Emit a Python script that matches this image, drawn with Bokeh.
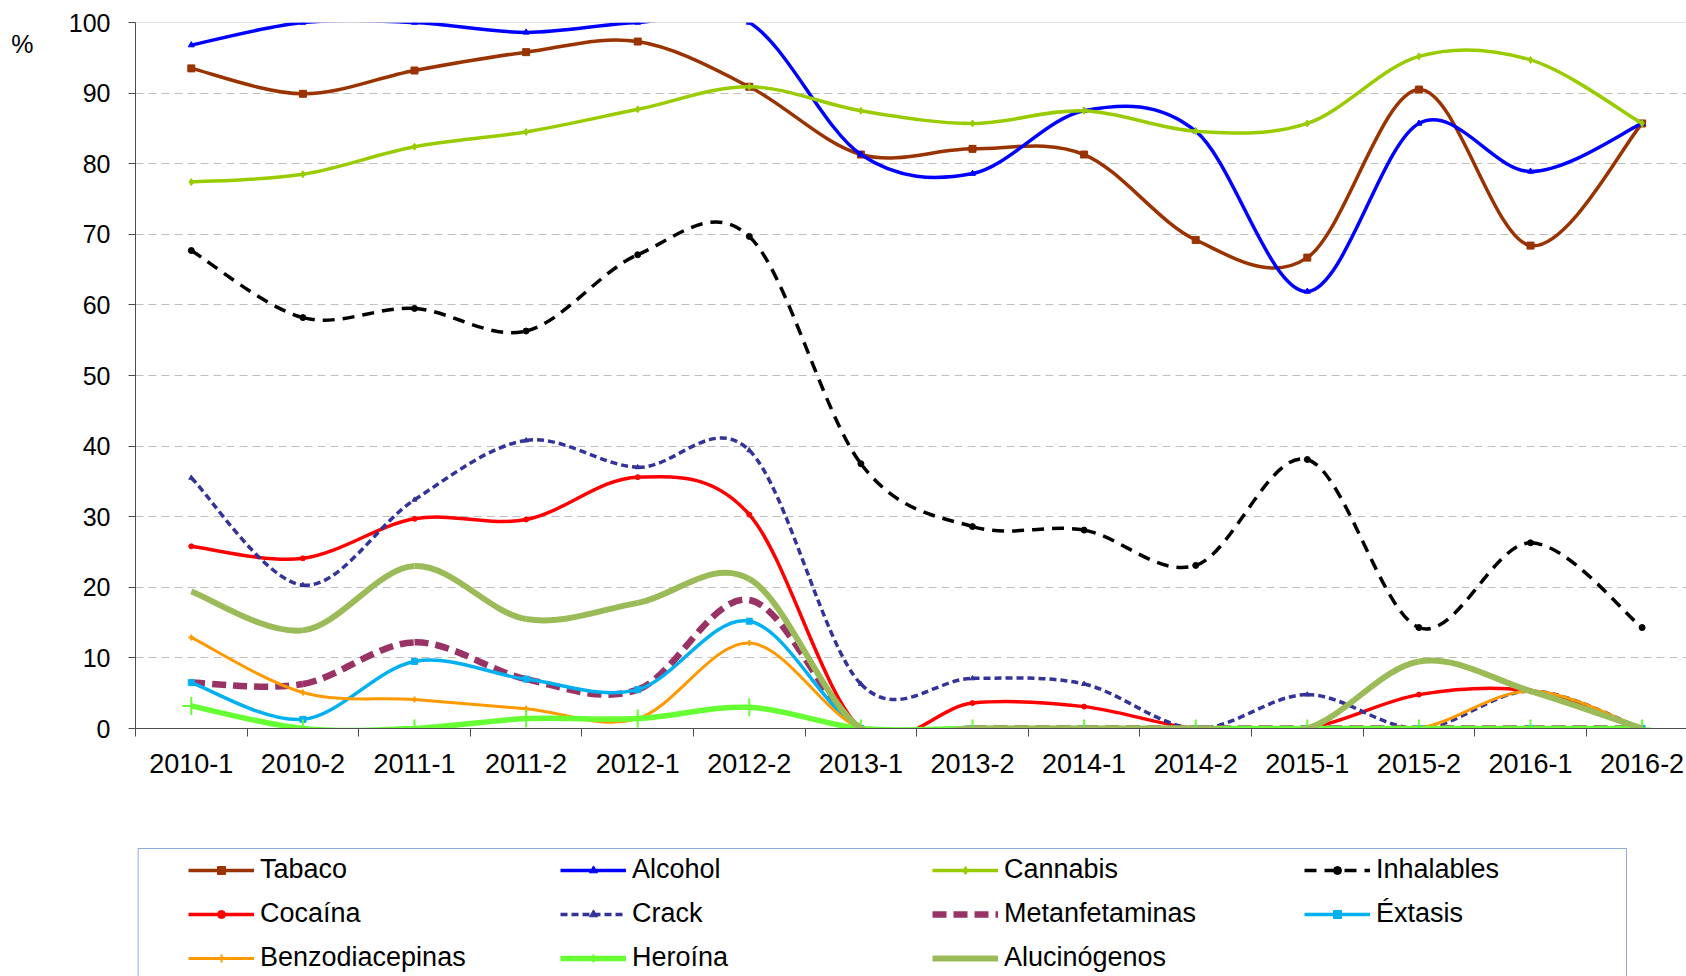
from bokeh.plotting import figure
from bokeh.models import (FixedTicker, Range1d, Span, Legend, LegendItem, LinearAxis,
                          BoxAnnotation, ColumnDataSource)
from bokeh.layouts import column
from bokeh.embed import file_html
from bokeh.resources import INLINE

FONT = "Liberation Sans"

categories = ["2010-1", "2010-2", "2011-1", "2011-2", "2012-1", "2012-2", "2013-1",
              "2013-2", "2014-1", "2014-2", "2015-1", "2015-2", "2016-1", "2016-2"]

tabaco = [93.5, 89.9, 93.2, 95.8, 97.3, 90.9, 81.3, 82.1, 81.3, 69.2, 66.7, 90.5, 68.4, 85.7]
alcohol = [96.8, 100.0, 100.0, 98.6, 100.0, 100.0, 81.3, 78.6, 87.5, 84.6, 61.9, 85.7, 78.9, 85.7]
cannabis = [77.4, 78.5, 82.4, 84.5, 87.7, 90.9, 87.5, 85.7, 87.5, 84.6, 85.7, 95.2, 94.7, 85.7]
inhalables = [67.7, 58.2, 59.5, 56.3, 67.1, 69.7, 37.5, 28.6, 28.1, 23.1, 38.1, 14.3, 26.3, 14.3]
cocaina = [25.8, 24.1, 29.7, 29.6, 35.6, 30.3, 0.0, 3.6, 3.1, 0.0, 0.0, 4.8, 5.3, 0.0]
crack = [35.5, 20.3, 32.4, 40.8, 37.0, 39.4, 6.3, 7.1, 6.3, 0.0, 4.8, 0.0, 5.3, 0.0]
metanfetaminas = [6.5, 6.3, 12.2, 7.0, 5.5, 18.2, 0.0, 0.0, 0.0, 0.0, 0.0, 0.0, 0.0, 0.0]
extasis = [6.5, 1.3, 9.5, 7.0, 5.5, 15.2, 0.0, 0.0, 0.0, 0.0, 0.0, 0.0, 0.0, 0.0]
benzodiacepinas = [12.9, 5.1, 4.1, 2.8, 1.4, 12.1, 0.0, 0.0, 0.0, 0.0, 0.0, 0.0, 5.3, 0.0]
heroina = [3.2, 0.0, 0.0, 1.4, 1.4, 3.0, 0.0, 0.0, 0.0, 0.0, 0.0, 0.0, 0.0, 0.0]
alucinogenos = [19.4, 13.9, 23.0, 15.5, 17.8, 21.2, 0.0, 0.0, 0.0, 0.0, 0.0, 9.5, 5.3, 0.0]

y_ticks = [0, 10, 20, 30, 40, 50, 60, 70, 80, 90, 100]
y_unit_label = "%"

xs = list(range(len(categories)))

# name, values, color, width, dash, marker, marker size
series = [
    ("Tabaco", tabaco, "#993300", 3.5, "solid", "square", 7),
    ("Alcohol", alcohol, "#0000FF", 3.5, "solid", "triangle", 6),
    ("Cannabis", cannabis, "#99CC00", 3.5, "solid", "diamond", 7),
    ("Inhalables", inhalables, "#000000", 3.5, "12 8", "circle", 6),
    ("Cocaína", cocaina, "#FF0000", 3.5, "solid", "circle", 5),
    ("Crack", crack, "#333399", 3.5, "7 4", "triangle", 5),
    ("Metanfetaminas", metanfetaminas, "#993366", 6.5, "14 7", None, 0),
    ("Éxtasis", extasis, "#00B0F0", 3.5, "solid", "square", 6),
    ("Benzodiacepinas", benzodiacepinas, "#FF9900", 3, "solid", "cross", 6),
    ("Heroína", heroina, "#66FF33", 5.5, "solid", "cross", 18),
    ("Alucinógenos", alucinogenos, "#9BBB59", 6, "solid", None, 0),
]


def bezier_source(vals):
    n = len(vals)
    d = dict(x0=[], y0=[], x1=[], y1=[], cx0=[], cy0=[], cx1=[], cy1=[])
    for i in range(n - 1):
        ip = max(i - 1, 0)
        inn = min(i + 2, n - 1)
        d["x0"].append(xs[i]); d["y0"].append(vals[i])
        d["x1"].append(xs[i + 1]); d["y1"].append(vals[i + 1])
        d["cx0"].append(xs[i] + (xs[i + 1] - xs[ip]) / 6.0)
        d["cy0"].append(vals[i] + (vals[i + 1] - vals[ip]) / 6.0)
        d["cx1"].append(xs[i + 1] - (xs[inn] - xs[i]) / 6.0)
        d["cy1"].append(vals[i + 1] - (vals[inn] - vals[i]) / 6.0)
    return ColumnDataSource(d)


W = 1686
LEFT = 135
X_END = -0.5 + (W - LEFT) / 111.6

# ---------------- main chart ----------------
p = figure(width=W, height=840,
           x_range=Range1d(-0.5, X_END), y_range=Range1d(0, 100),
           output_backend="svg", toolbar_location=None,
           min_border_left=LEFT, min_border_right=0,
           min_border_top=22, min_border_bottom=112,
           outline_line_color=None, background_fill_color="white")

p.xgrid.visible = False
p.ygrid.ticker = FixedTicker(ticks=y_ticks[1:-1])
p.ygrid.grid_line_color = "#BFBFBF"
p.ygrid.grid_line_dash = "8 5"
p.ygrid.grid_line_width = 1

p.add_layout(Span(location=100, dimension="width", line_color="#C8C8C8", line_width=1))

axis_color = "#4D4D4D"
p.xaxis.ticker = FixedTicker(ticks=xs, minor_ticks=[i - 0.5 for i in range(len(xs) + 1)])
p.xaxis.major_label_overrides = {i: c for i, c in enumerate(categories)}
p.xaxis.major_tick_out = 0
p.xaxis.major_tick_in = 0
p.xaxis.minor_tick_out = 8
p.xaxis.minor_tick_in = 0
p.xaxis.minor_tick_line_color = axis_color
p.xaxis.axis_line_color = axis_color
p.xaxis.major_label_standoff = 17
p.xaxis.major_label_text_font = FONT
p.xaxis.major_label_text_font_size = "27px"
p.xaxis.major_label_text_color = "#000000"

p.yaxis.ticker = FixedTicker(ticks=y_ticks)
p.yaxis.major_tick_out = 7
p.yaxis.major_tick_in = 0
p.yaxis.minor_tick_line_color = None
p.yaxis.axis_line_color = axis_color
p.yaxis.major_tick_line_color = axis_color
p.yaxis.major_label_standoff = 18
p.yaxis.major_label_text_font = FONT
p.yaxis.major_label_text_font_size = "25px"
p.yaxis.major_label_text_color = "#000000"

# unit label "%" as an extra (line-less) axis at the top left
unit_axis = LinearAxis(ticker=FixedTicker(ticks=[97]), major_label_overrides={97: y_unit_label},
                       axis_line_color=None, major_tick_line_color=None,
                       minor_tick_line_color=None, major_label_standoff=26,
                       major_label_text_font=FONT, major_label_text_font_size="25px",
                       major_label_text_color="#000000")
p.add_layout(unit_axis, "left")

for name, vals, color, width, dash, marker, msize in series:
    p.bezier(x0="x0", y0="y0", x1="x1", y1="y1", cx0="cx0", cy0="cy0", cx1="cx1", cy1="cy1",
             source=bezier_source(vals), line_color=color, line_width=width, line_dash=dash)
    if marker is not None:
        p.scatter(xs, vals, marker=marker, size=msize, fill_color=color, line_color=color,
                  line_width=2 if marker == "cross" else 1)

# ---------------- legend panel ----------------
H2 = 136
p2 = figure(width=W, height=H2,
            x_range=Range1d(0, 1), y_range=Range1d(1000, 1001),
            output_backend="svg", toolbar_location=None,
            min_border_left=LEFT, min_border_right=0, min_border_top=0, min_border_bottom=0,
            x_axis_location=None, y_axis_location=None,
            outline_line_color=None, background_fill_color="white")
p2.grid.visible = False

frame_w = W - LEFT
p2.add_layout(BoxAnnotation(left=(137.6 - LEFT) / frame_w, right=(1626 - LEFT) / frame_w,
                            top=1001 - 8.0 / H2, bottom=999.0,
                            fill_color=None, fill_alpha=0, line_color="#8EA9DB",
                            line_width=1, line_alpha=1))

items = []
for name, vals, color, width, dash, marker, msize in series:
    rs = [p2.line(xs, vals, line_color=color, line_width=width, line_dash=dash)]
    if marker is not None:
        rs.append(p2.scatter(xs, vals, marker=marker, size=msize, fill_color=color,
                             line_color=color, line_width=2 if marker == "cross" else 1))
    items.append(LegendItem(label=name, renderers=rs))

legend = Legend(items=items, location=(53, 3), orientation="horizontal", ncols=4,
                spacing=13, padding=0, margin=0,
                glyph_width=66, glyph_height=20, label_height=20, label_width=287,
                label_standoff=6, border_line_color=None, background_fill_alpha=0,
                label_text_font=FONT, label_text_font_size="27px",
                label_text_color="#000000")
p2.add_layout(legend)

layout = column(p, p2, spacing=0)
open("out.html", "w").write(file_html(layout, INLINE))
